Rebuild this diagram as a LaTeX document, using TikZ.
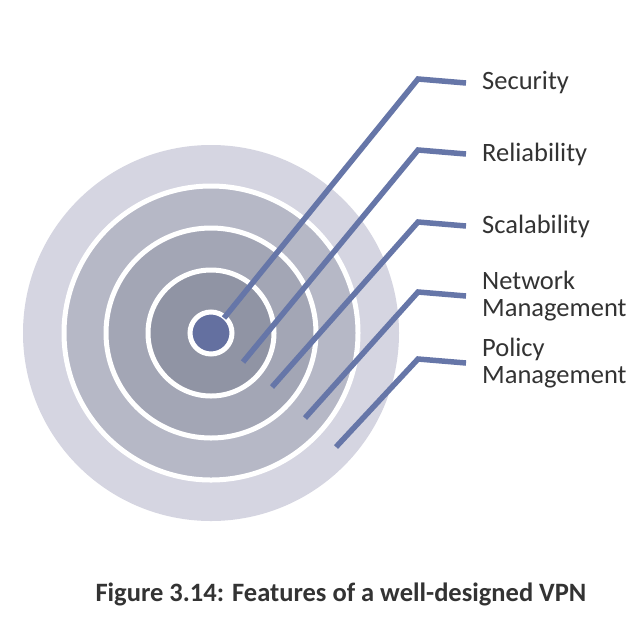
\documentclass[tikz,border=0pt]{standalone}
\usepackage{fontspec}
\setmainfont{Carlito}
\definecolor{RingOuter}{HTML}{D5D5E1}
\definecolor{RingThree}{HTML}{B6B8C6}
\definecolor{RingTwo}{HTML}{A3A6B5}
\definecolor{RingOne}{HTML}{9094A4}
\definecolor{TargetDot}{HTML}{6470A0}
\definecolor{LeaderBlue}{HTML}{6676A8}
\definecolor{LabelGray}{HTML}{333333}
\usetikzlibrary{calc}
\usetikzlibrary{positioning}

\begin{document}
\begin{tikzpicture}[x=1pt,y=-1pt,
    font=\fontsize{26.5}{27.5}\selectfont,
    leader/.style={draw=LeaderBlue, line width=5.5pt},
    feature/.style={anchor=west,
      inner xsep=16pt,
      inner ysep=0pt,
      align=left,
      text=LabelGray,
      yshift=-4pt}]
    \path [use as bounding box, fill=white] (0,0) rectangle (636,622);

    % target rings
    \coordinate (center) at (211,333);
    \fill[RingOuter] (center) circle (188pt);
    \foreach \rad/\col in {147/RingThree, 105/RingTwo, 63/RingOne}
      \draw[white, line width=5pt, fill=\col] (center) circle (\rad pt);
    \draw[white, line width=5pt, fill=TargetDot] (center) circle (21pt);

    % labels
    \node[name=security, feature] at (466,79) {Security};
    \node[name=reliability, feature] at (466,150) {Reliability};
    \node[name=scalability, feature] at (466,222) {Scalability};
    \node[name=netmgmt, feature] at (466,292) {Network\\Management};
    \node[name=polmgmt, feature] at (466,359) {Policy\\Management};

    \coordinate (secend) at (224,318);
    \coordinate (relend) at (243,362);
    \coordinate (scaend) at (272,387);
    \coordinate (netend) at (305,418);
    \coordinate (polend) at (336,447);

    \draw[leader] (secend) -- (418,79) -- (security.west);
    \draw[leader] (relend) -- (418,150) -- (reliability.west);
    \draw[leader] (scaend) -- (418,222) -- (scalability.west);
    \draw[leader] (netend) -- (418,292) -- (netmgmt.west);
    \draw[leader] (polend) -- (418,359) -- (polmgmt.west);

    \node[name=caption,
      font=\bfseries\fontsize{26.5}{28}\selectfont,
      text=LabelGray,
      anchor=base] at (341,601) {Figure 3.14: Features of a well-designed VPN};
\end{tikzpicture}
\end{document}
